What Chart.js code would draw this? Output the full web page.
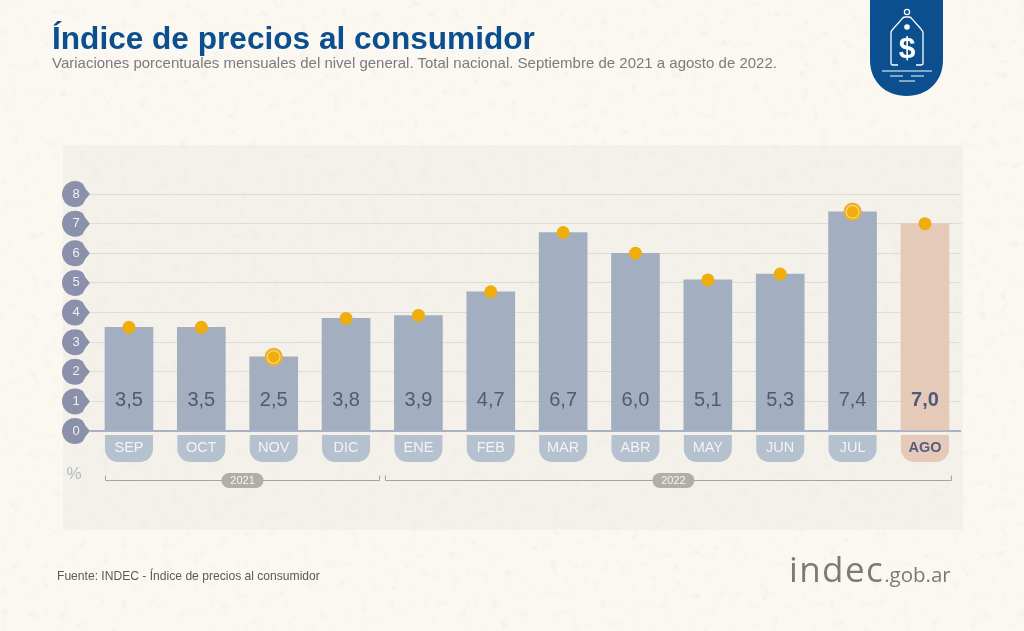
<!DOCTYPE html>
<html>
<head>
<meta charset="utf-8">
<title>Índice de precios al consumidor</title>
<script src="https://cdn.jsdelivr.net/npm/chart.js@4"></script>
<style>
    html, body { margin: 0; padding: 0; }
    body { width: 1024px; height: 631px; overflow: hidden; position: relative; background: #fbf8f2; font-family: "Liberation Sans", Arial, sans-serif; }
    #texture { position: absolute; left: 0; top: 0; opacity: .5; }
    #panel { position: absolute; left: 63px; top: 145px; width: 900px; height: 385px; background: rgba(236, 233, 226, .5); }
    #chart { position: absolute; left: 0; top: 0; }
    #title { position: absolute; left: 52px; top: 20px; font-size: 31.6px; line-height: 36px; font-weight: bold; color: #0b4f8f; white-space: nowrap; }
    #subtitle { position: absolute; left: 52px; top: 54px; font-size: 15px; line-height: 18px; color: #7b7b7b; white-space: nowrap; }
    #source { position: absolute; left: 57px; top: 569px; font-size: 12.1px; line-height: 14px; color: #5a5a5a; white-space: nowrap; }
    #badge { position: absolute; left: 870px; top: 0; }
    #brand { position: absolute; left: 789px; top: 546px; color: #7a7a78; white-space: nowrap; font-family: "Open Sans", sans-serif; }
    #brand b { font-weight: 400; font-size: 35px; line-height: 46px; letter-spacing: 1.4px; }
    #brand span { font-size: 20.5px; }
</style>
</head>
<body>
<svg id="texture" width="1024" height="631">
    <filter id="speckle">
        <feTurbulence type="fractalNoise" baseFrequency="0.1" numOctaves="3" seed="7"/>
        <feColorMatrix values="0 0 0 0 .86  0 0 0 0 .83  0 0 0 0 .76  0 0 0 3.6 -2.2"/>
    </filter>
    <rect width="1024" height="631" filter="url(#speckle)"/>
</svg>
<div id="panel"></div>
<canvas id="chart" width="1024" height="631"></canvas>
<div id="title">Índice de precios al consumidor</div>
<div id="subtitle">Variaciones porcentuales mensuales del nivel general. Total nacional. Septiembre de 2021 a agosto de 2022.</div>
<div id="source">Fuente: INDEC - Índice de precios al consumidor</div>
<svg id="badge" width="74" height="97" viewBox="0 0 74 97">
    <path d="M0 0H73V60C73 82 57 96 36.5 96C16 96 0 82 0 60Z" fill="#0b4f8f"/>
    <g fill="none" stroke="#fff" stroke-width="1.3">
        <circle cx="37" cy="12" r="2.6"/>
        <path d="M28 65H23Q21 65 21 63V33Q21 31 23 29L32 19Q33 17 35 17H39Q41 17 42 19L51 29Q53 31 53 33V63Q53 65 51 65H46"/>
        <path d="M12 71H62M20 76H33M41 76H54M29 81H45" stroke-width="1.2"/>
    </g>
    <circle cx="37" cy="27" r="2.8" fill="#fff"/>
    <text x="37" y="58" text-anchor="middle" font-family="Liberation Sans" font-weight="bold" font-size="30" fill="#fff">$</text>
</svg>
<div id="brand"><b>indec</b><span>.gob.ar</span></div>

<script>
const months = ['SEP', 'OCT', 'NOV', 'DIC', 'ENE', 'FEB', 'MAR', 'ABR', 'MAY', 'JUN', 'JUL', 'AGO'];
const ipcValues = [3.5, 3.5, 2.5, 3.8, 3.9, 4.7, 6.7, 6.0, 5.1, 5.3, 7.4, 7.0];
const ringValues = [null, null, 2.5, null, null, null, null, null, null, null, 7.4, null];
const yearLabels = ['2021', '2022'];
const yearFirstMonth = [0, 4];
const yearLastMonth = [3, 11];
const yTicks = [0, 1, 2, 3, 4, 5, 6, 7, 8];

const FONT = '"Liberation Sans", Arial, sans-serif';
const LAST = months.length - 1;

// teardrops behind the y ticks, tabs behind the months, year brackets
const backdropPlugin = {
    id: 'backdrop',
    beforeDraw(chart) {
        const ctx = chart.ctx;
        const x = chart.scales.x;
        const y = chart.scales.y;

        ctx.save();
        ctx.fillStyle = '#8b91aa';
        yTicks.forEach(function (tick) {
            const py = y.getPixelForValue(tick);
            ctx.beginPath();
            ctx.arc(75, py, 13, Math.PI * 0.3, Math.PI * 1.7);
            ctx.quadraticCurveTo(85, py - 5, 90, py);
            ctx.quadraticCurveTo(85, py + 5, 82.6, py + 10.5);
            ctx.fill();
        });

        months.forEach(function (month, i) {
            const px = x.getPixelForValue(i);
            ctx.fillStyle = i === LAST ? '#e5c9b9' : '#b6c1d0';
            ctx.beginPath();
            ctx.roundRect(px - 24, 435, 48, 27, [0, 0, 13, 13]);
            ctx.fill();
        });

        ctx.font = '11px ' + FONT;
        ctx.textAlign = 'center';
        ctx.textBaseline = 'middle';
        yearLabels.forEach(function (year, i) {
            const first = x.getPixelForValue(yearFirstMonth[i]);
            const last = x.getPixelForValue(yearLastMonth[i]);
            const left = i === 0 ? first - 24 : first - 33.5;
            const right = i === 0 ? last + 34 : last + 27;
            const mid = (left + right) / 2 + (i === 0 ? 0 : 5);

            ctx.strokeStyle = '#a3a3a0';
            ctx.lineWidth = 1;
            ctx.beginPath();
            ctx.moveTo(left + 0.5, 475.5);
            ctx.lineTo(left + 0.5, 480.5);
            ctx.lineTo(right - 0.5, 480.5);
            ctx.lineTo(right - 0.5, 475.5);
            ctx.stroke();

            ctx.fillStyle = '#aeaeab';
            ctx.beginPath();
            ctx.roundRect(mid - 21, 473, 42, 15, 7.5);
            ctx.fill();
            ctx.fillStyle = '#f7f5f0';
            ctx.fillText(year, mid, 481);
        });

        ctx.fillStyle = '#b3b7c6';
        ctx.font = '17px ' + FONT;
        ctx.fillText('%', 74, 474);
        ctx.restore();
    }
};

// values written low inside the bars
const barValuesPlugin = {
    id: 'barValues',
    afterDatasetDraw(chart, args) {
        if (args.index !== 2) {
            return;
        }
        const ctx = chart.ctx;
        const bars = chart.getDatasetMeta(2).data;
        ctx.save();
        ctx.textAlign = 'center';
        ctx.textBaseline = 'middle';
        ctx.fillStyle = '#4f5a78';
        bars.forEach(function (bar, i) {
            ctx.font = (i === LAST ? 'bold ' : '') + '20px ' + FONT;
            ctx.fillText(ipcValues[i].toFixed(1).replace('.', ','), bar.x, 400.5);
        });
        ctx.restore();
    }
};

new Chart(document.getElementById('chart').getContext('2d'), {
    data: {
        labels: months,
        datasets: [
            {
                type: 'line',
                label: 'Puntos',
                data: ipcValues,
                showLine: false,
                pointRadius: function (c) { return ringValues[c.dataIndex] === null ? 6.5 : 5.8; },
                pointBackgroundColor: '#efae0c',
                pointBorderWidth: 0,
                order: 1
            },
            {
                type: 'line',
                label: 'Anillos',
                data: ringValues,
                showLine: false,
                pointRadius: 8,
                pointBackgroundColor: '#f7dc9a',
                pointBorderColor: '#efb02a',
                pointBorderWidth: 2.4,
                order: 2
            },
            {
                type: 'bar',
                label: 'IPC',
                data: ipcValues,
                barThickness: 48,
                backgroundColor: months.map(function (m, i) { return i === LAST ? '#e5c9b9' : '#a3afc0'; }),
                order: 3
            }
        ]
    },
    options: {
        responsive: false,
        animation: false,
        layout: { padding: { left: 0, right: 62.9, top: 194, bottom: 0 } },
        plugins: {
            legend: { display: false },
            title: { display: false },
            tooltip: { enabled: false }
        },
        scales: {
            x: {
                offset: true,
                afterFit: function (scale) { scale.height = 200; },
                grid: { display: false },
                border: { display: false },
                ticks: {
                    padding: 0,
                    maxRotation: 0,
                    autoSkip: false,
                    color: function (c) { return c.index === LAST ? '#565f7b' : '#f2f3f5'; },
                    font: function (c) {
                        return { family: FONT, size: 14.5, weight: c.index === LAST ? 'bold' : 'normal' };
                    }
                }
            },
            y: {
                min: 0,
                max: 8,
                afterFit: function (scale) { scale.width = 92.8; },
                afterBuildTicks: function (scale) { scale.ticks = yTicks.map(function (v) { return { value: v }; }); },
                grid: {
                    tickLength: 3,
                    lineWidth: function (c) { return c.tick.value === 0 ? 2 : 1; },
                    color: function (c) { return c.tick.value === 0 ? '#a9b2c4' : '#dedbd5'; },
                    tickColor: function (c) { return c.tick.value === 0 ? '#a9b2c4' : '#dedbd5'; }
                },
                border: { display: false },
                ticks: {
                    padding: 10,
                    color: '#f0f0f3',
                    font: { family: FONT, size: 13 }
                }
            }
        }
    },
    plugins: [backdropPlugin, barValuesPlugin]
});
</script>
</body>
</html>
